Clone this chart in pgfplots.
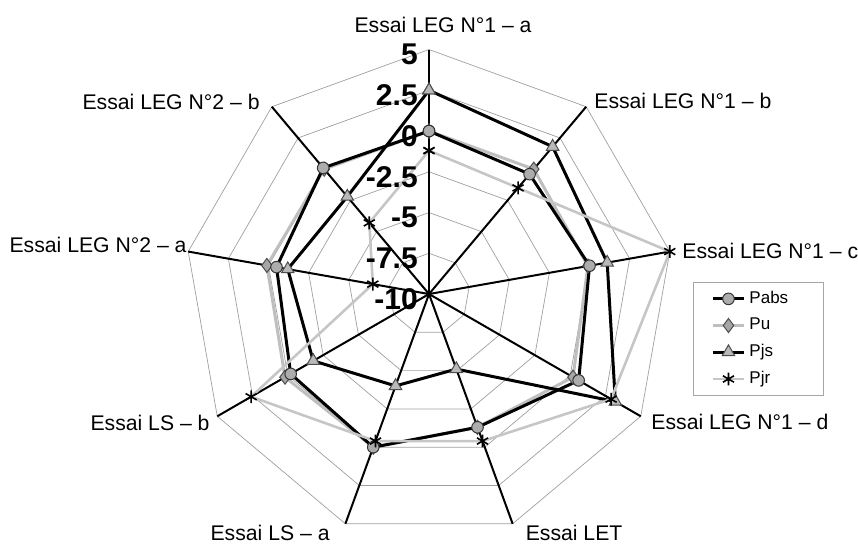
\documentclass[border=0pt]{standalone}
\usepackage{pgfplots}
\pgfplotsset{compat=1.18}
\usepackage{pgfplotstable}
\usepackage{fontspec}
\setmainfont{Liberation Sans}

% values per spoke (k = 0 at top, clockwise); last row closes the polygon
\pgfplotstableread{
k Pabs Pu Pjs Pjr
0 0 0 2.5 -1.2
1 -0.4 0 1.8 -1.5
2 0 -0.1 1.1 5
3 0.6 0.2 3.2 2.9
4 -1.3 -1.3 -5.1 -0.4
5 0 0 -4 -0.4
6 -0.2 0.2 -1.8 2.6
7 -0.5 0.1 -1.2 -6.5
8 0.1 0 -2.2 -4.3
9 0 0 2.5 -1.2
}\radardata

\newcommand{\rx}[1]{{(\thisrow{#1}+10)*cos(90-40*\thisrow{k})}}
\newcommand{\ry}[1]{{(\thisrow{#1}+10)*sin(90-40*\thisrow{k})}}

\begin{document}
\begin{tikzpicture}
\begin{axis}[
    hide axis,
    x=8.15pt, y=8.15pt,
    xmin=-26.32, xmax=26.32,
    ymin=-15.28, ymax=18.04,
    clip=false,
    legend style={at={(axis cs:16.2,0.75)}, anchor=north west,
        draw=gray!70, line width=0.4pt,
        font=\fontsize{8.5}{10}\selectfont,
        inner xsep=9pt, inner ysep=2.5pt, row sep=1.8pt,
        nodes={text width=26pt}},
    legend cell align=left,
    legend image code/.code={
        \draw[#1] (0pt,0pt) -- (15.5pt,0pt);
        \draw[#1, only marks] plot coordinates {(7.75pt,0pt)};
    },
    pabs/.style={black, line width=1.5pt, mark=*, mark size=2.9pt,
        mark options={fill=gray!65, draw=black!80, line width=0.5pt}},
    pu/.style={gray!50, line width=1.5pt, mark=diamond*, mark size=3.5pt,
        mark options={fill=gray!70, draw=black!70, line width=0.5pt}},
    pjs/.style={black, line width=1.5pt, mark=triangle*, mark size=3.6pt,
        mark options={fill=gray!55, draw=black!70, line width=0.5pt}},
    pjr/.style={gray!45, line width=1.3pt, mark=asterisk, mark size=3.2pt,
        mark options={draw=black, line width=0.8pt}},
]
\coordinate (bl) at (axis cs:-26.32,-15.28);
\coordinate (tr) at (axis cs:26.32,18.04);

% grid rings
\pgfplotsinvokeforeach{2.5,5,7.5,10,12.5,15}{
  \addplot[gray!75, line width=0.35pt, forget plot, no marks] table[
     x expr={#1*cos(90-40*\thisrow{k})},
     y expr={#1*sin(90-40*\thisrow{k})}] {\radardata};
}
% spokes
\pgfplotsinvokeforeach{0,...,8}{
  \draw[black, line width=1pt] (axis cs:0,0) --
     (axis cs:{15*cos(90-40*#1)},{15*sin(90-40*#1)});
}

\addlegendimage{pabs}
\addlegendimage{pu}
\addlegendimage{pjs}
\addlegendimage{pjr}
\legend{Pabs,Pu,Pjs,Pjr}

\addplot[pu, forget plot] table[x expr=\rx{Pu}, y expr=\ry{Pu}] {\radardata};
\addplot[pabs, forget plot] table[x expr=\rx{Pabs}, y expr=\ry{Pabs}] {\radardata};
\addplot[pjs, forget plot] table[x expr=\rx{Pjs}, y expr=\ry{Pjs}] {\radardata};
\addplot[pjr, forget plot] table[x expr=\rx{Pjr}, y expr=\ry{Pjr}] {\radardata};

% radial tick labels
\pgfplotsinvokeforeach{5,2.5,0,-2.5,-5,-7.5,-10}{
  \node[anchor=east, inner sep=0pt, font=\fontsize{15}{16}\selectfont\bfseries]
     at (axis cs:-0.67,{#1+10-0.3}) {#1};
}

% category labels
\begin{scope}[every node/.style={font=\fontsize{10.6}{12}\selectfont, inner sep=0pt}]
\node[anchor=center] at (axis cs:0.86,16.5) {Essai LEG N°1 – a};
\node[anchor=west] at (axis cs:10.12,11.84) {Essai LEG N°1 – b};
\node[anchor=west] at (axis cs:15.52,2.64) {Essai LEG N°1 – c};
\node[anchor=west] at (axis cs:13.62,-7.85) {Essai LEG N°1 – d};
\node[anchor=center] at (axis cs:8.9,-14.66) {Essai LET};
\node[anchor=center] at (axis cs:-9.75,-14.66) {Essai LS – a};
\node[anchor=east] at (axis cs:-13.44,-7.91) {Essai LS – b};
\node[anchor=east] at (axis cs:-14.85,3.0) {Essai LEG N°2 – a};
\node[anchor=east] at (axis cs:-10.37,11.78) {Essai LEG N°2 – b};
\end{scope}
\end{axis}
\pgfresetboundingbox
\path[use as bounding box] (bl) rectangle (tr);
\end{tikzpicture}
\end{document}
